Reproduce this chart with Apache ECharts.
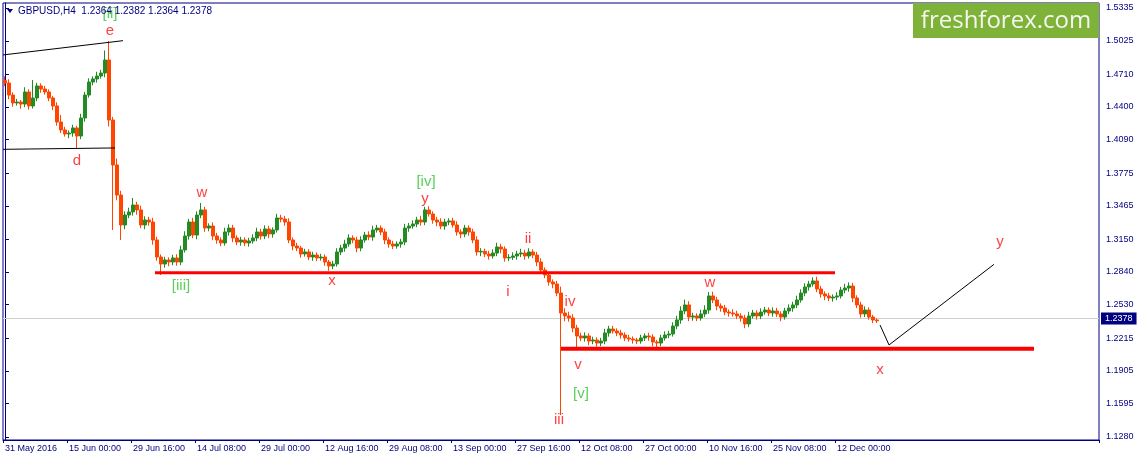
<!DOCTYPE html>
<html><head><meta charset="utf-8">
<script src="https://cdn.jsdelivr.net/npm/echarts@6/dist/echarts.min.js"></script>
<style>html,body{margin:0;padding:0;background:#fff;}#c{width:1140px;height:460px;}</style>
</head><body><div id="c"></div>
<script>
// ---------- data ----------
const chartTitle = 'GBPUSD,H4  1.2364 1.2382 1.2364 1.2378';
const brandText = 'freshforex.com';
const xLabels = ['31 May 2016','15 Jun 00:00','29 Jun 16:00','14 Jul 08:00','29 Jul 00:00','12 Aug 16:00',
  '29 Aug 08:00','13 Sep 00:00','27 Sep 16:00','12 Oct 08:00','27 Oct 00:00','10 Nov 16:00','25 Nov 08:00','12 Dec 00:00'];
const yLabels = ['1.1280','1.1595','1.1905','1.2215','1.2530','1.2840','1.3150','1.3465','1.3775','1.4090',
  '1.4400','1.4710','1.5025','1.5335'];
const firstOpen = 1.4650;
const closes = [
  1.4626,1.4512,1.4437,1.4446,1.4427,1.4541,1.4409,1.4484,1.4598,1.4569,
  1.4541,1.4484,1.4409,1.4257,1.4182,1.4144,1.4153,1.4201,1.4125,1.4295,
  1.4512,1.4635,1.4664,1.4692,1.4720,1.4843,1.4276,1.3851,1.3567,1.3284,
  1.3378,1.3407,1.3473,1.3426,1.3284,1.3331,1.3312,1.3142,1.2981,1.2915,
  1.2953,1.2934,1.2972,1.2934,1.3048,1.3180,1.3312,1.3189,1.3378,1.3426,
  1.3255,1.3274,1.3180,1.3142,1.3114,1.3218,1.3255,1.3161,1.3123,1.3142,
  1.3114,1.3133,1.3161,1.3218,1.3180,1.3246,1.3199,1.3237,1.3350,1.3340,
  1.3312,1.3142,1.3085,1.3066,1.3010,1.3029,1.2981,1.3000,1.2972,1.2981,
  1.2934,1.2896,1.2915,1.3029,1.3066,1.3104,1.3161,1.3142,1.3066,1.3142,
  1.3189,1.3170,1.3237,1.3255,1.3218,1.3142,1.3104,1.3085,1.3104,1.3123,
  1.3255,1.3274,1.3293,1.3331,1.3312,1.3426,1.3388,1.3331,1.3312,1.3274,
  1.3312,1.3322,1.3284,1.3218,1.3199,1.3255,1.3218,1.3142,1.3029,1.3035,
  1.3010,1.2991,1.3019,1.3076,1.3057,1.2972,1.2978,1.2991,1.3010,1.3019,
  1.2991,1.3029,1.3000,1.2934,1.2858,1.2811,1.2745,1.2726,1.2641,1.2452,
  1.2424,1.2405,1.2310,1.2235,1.2216,1.2235,1.2187,1.2197,1.2168,1.2187,
  1.2263,1.2301,1.2282,1.2263,1.2244,1.2216,1.2206,1.2197,1.2187,1.2216,
  1.2235,1.2225,1.2178,1.2168,1.2216,1.2244,1.2254,1.2329,1.2386,1.2471,
  1.2528,1.2414,1.2424,1.2405,1.2443,1.2480,1.2613,1.2575,1.2518,1.2499,
  1.2461,1.2452,1.2443,1.2424,1.2405,1.2348,1.2424,1.2452,1.2424,1.2461,
  1.2480,1.2452,1.2471,1.2443,1.2414,1.2471,1.2499,1.2528,1.2575,1.2641,
  1.2698,1.2726,1.2755,1.2679,1.2632,1.2613,1.2594,1.2603,1.2613,1.2669,
  1.2688,1.2707,1.2594,1.2528,1.2443,1.2480,1.2414,1.2386,1.2378
];
// shadow lengths above / below each body, in pips
const upperPips = [
  40,35,25,30,20,45,25,60,30,25, 30,25,20,35,60,30,25,30,20,40,
  30,35,25,40,30,90,50,30,60,40, 35,40,55,30,40,35,30,40,30,25,
  30,25,30,35,40,45,30,40,35,50, 30,25,35,30,25,40,35,30,25,30,
  25,30,35,40,30,35,30,25,40,30, 30,35,25,30,20,30,25,30,25,30,
  25,20,30,35,30,40,35,25,30,35, 30,35,40,30,25,30,25,30,25,30,
  40,30,35,30,40,30,35,25,30,35, 30,25,30,35,25,30,25,30,35,30,
  25,30,35,40,30,25,30,35,30,40, 30,35,25,30,35,25,30,25,30,60,
  45,40,35,30,30,35,25,30,25,30, 40,30,30,25,30,25,30,25,20,30,
  25,30,25,20,30,35,30,35,40,45, 50,35,30,25,40,45,35,40,30,25,
  30,25,35,30,25,30,40,30,25,35, 30,25,35,30,25,30,35,30,40,35,
  35,30,35,40,30,25,30,25,35,30, 40,35,30,25,30,35,25,20,15
];
const lowerPips = [
  30,40,35,25,45,30,35,25,30,35, 25,30,40,35,30,25,40,35,50,30,
  35,25,30,35,25,40,60,120,50,60, 40,30,35,45,30,40,35,45,35,50,
  35,40,30,35,30,25,35,30,40,30, 35,30,40,35,30,25,35,40,30,35,
  30,35,25,30,35,30,40,35,25,30, 35,30,40,30,35,25,30,35,30,25,
  35,45,30,25,30,35,25,30,40,30, 25,30,35,25,30,40,35,30,25,35,
  30,35,25,30,35,30,25,35,40,30, 35,30,25,35,40,30,35,30,35,40,
  30,35,25,30,40,35,30,25,35,30, 35,25,30,40,35,30,35,40,30,60,
  50,35,40,45,30,35,40,30,35,30, 30,35,25,30,35,30,25,35,30,25,
  30,35,40,45,30,25,30,25,30,35, 30,40,35,30,25,30,35,30,40,35,
  30,35,25,30,35,40,30,25,35,30, 25,30,35,30,40,25,30,35,30,25,
  30,35,25,30,35,40,30,35,30,25, 30,35,40,30,35,30,25,30,20
];
// [bar index, high, low] for bars with long shadows
const wicks = [
  [5,1.4560,null],[7,1.4654,null],[14,1.4323,null],[18,null,1.4012],[26,1.5023,null],
  [27,null,1.3237],[29,null,1.3142],[32,1.3539,null],[39,null,1.2811],[49,1.3492,null],
  [81,null,1.2877],[105,1.3454,null],[139,null,1.1488],[143,null,1.2102],[176,1.2651,null],
  [185,null,1.2320],[202,1.2783,null]
];
const lastPrice = 1.2378;
// annotation lines: [bar index, price]
const trendUpper = [[-0.5,1.4891],[29.5,1.5026]];
const trendLower = [[-0.5,1.3999],[27.5,1.4012]];
const resistance = [[37.5,1.2833],[207.5,1.2833]];
const support = [[139,1.2115],[257.25,1.2115]];
const projection = [[218.75,1.2339],[221,1.2150],[247.25,1.2912]];
// wave labels: [text, bar index, price]
const redLabels = [['e',26.25,1.5117],['d',18,1.3889],['w',49.25,1.3586],['x',81.75,1.2755],
  ['y',105,1.3529],['ii',130.75,1.3151],['i',125.75,1.2650],['iv',141.25,1.2556],
  ['v',143.25,1.1961],['iii',138.5,1.1441],['w',176.25,1.2736],['x',218.75,1.1913],['y',248.75,1.3123]];
const greenLabels = [['[ii]',26.25,1.5278],['[iii]',44,1.2707],['[iv]',105.25,1.3690],['[v]',144,1.1686]];
const slotCount = 274;
const labelEvery = 16;

// ---------- build ----------
const yTicks = yLabels.map(Number);
const candles = closes.map((c, i) => {
  const o = i === 0 ? firstOpen : closes[i - 1];
  let h = Math.max(o, c) + upperPips[i] / 10000;
  let l = Math.min(o, c) - lowerPips[i] / 10000;
  const w = wicks.find(x => x[0] === i);
  if (w) { if (w[1] != null) h = Math.max(h, w[1]); if (w[2] != null) l = Math.min(l, w[2]); }
  return [o, c, l, h];
});
const cats = Array.from({length: slotCount}, (_, i) => String(i));
const lastLabelSlot = (xLabels.length - 1) * labelEvery;
const showSlot = idx => idx % labelEvery === 0 && idx <= lastLabelSlot;
const NAVY = '#000080';
const axisFont = {color: NAVY, fontSize: 9, fontFamily: 'Liberation Sans, Arial, sans-serif'};

function lineSeries(data, color, width) {
  return {type: 'line', xAxisIndex: 1, yAxisIndex: 0, data: data, symbol: 'none', silent: true,
    clip: false, z: 5, lineStyle: {color: color, width: width}};
}
function labelSeries(list, color) {
  return {type: 'scatter', xAxisIndex: 1, yAxisIndex: 0, symbolSize: 1, silent: true, z: 6,
    itemStyle: {color: 'rgba(0,0,0,0)'},
    data: list.map(d => ({name: d[0], value: [d[1], d[2]]})),
    label: {show: true, position: 'inside', formatter: '{b}', color: color, fontSize: 15,
      fontFamily: 'Liberation Sans, Arial, sans-serif'}};
}

const chart = echarts.init(document.getElementById('c'), null, {renderer: 'canvas'});
chart.setOption({
  animation: false,
  backgroundColor: '#fff',
  grid: {left: 3, right: 41, top: 3, bottom: 20, show: true, borderColor: NAVY, borderWidth: 1, backgroundColor: '#fff'},
  xAxis: [{
    type: 'category', data: cats, boundaryGap: true,
    axisLine: {show: true, lineStyle: {color: NAVY}},
    axisTick: {show: true, interval: (idx) => showSlot(idx), length: 3, lineStyle: {color: NAVY}},
    axisLabel: Object.assign({interval: (idx) => showSlot(idx), align: 'left', margin: 4,
      formatter: (v, idx) => xLabels[idx / labelEvery] || ''}, axisFont),
    splitLine: {show: false}
  }, {
    type: 'value', min: -0.5, max: slotCount - 0.5, show: false
  }],
  yAxis: [{
    type: 'value', position: 'right', min: 1.12516, max: 1.5382, scale: true,
    axisLine: {show: true, lineStyle: {color: NAVY}},
    axisTick: {show: true, length: 4, customValues: yTicks, lineStyle: {color: NAVY}},
    axisLabel: Object.assign({customValues: yTicks, margin: 7,
      formatter: v => { const k = yTicks.findIndex(t => Math.abs(t - v) < 1e-6); return k >= 0 ? yLabels[k] : ''; }}, axisFont),
    splitLine: {show: false}
  }],
  graphic: [
    {type: 'polygon', shape: {points: [[7, 9], [13, 9], [10, 13]]}, style: {fill: NAVY}, z: 10},
    {type: 'text', x: 18, y: 11, style: {text: chartTitle, fill: NAVY, fontSize: 10,
      fontFamily: 'Liberation Sans, Arial, sans-serif', verticalAlign: 'middle'}, z: 10},
    {type: 'rect', shape: {x: 913, y: 3, width: 186, height: 35}, style: {fill: '#7fb239'}, z: 10},
    {type: 'text', x: 1006, y: 21, style: {text: brandText, fill: '#f4f7ee', fontSize: 24,
      fontFamily: 'Open Sans, sans-serif', align: 'center', verticalAlign: 'middle'}, z: 11}
  ],
  series: [
    {
      type: 'candlestick', xAxisIndex: 0, yAxisIndex: 0, data: candles, barWidth: 3,
      itemStyle: {color: '#228b22', color0: '#ff4500', borderColor: '#228b22', borderColor0: '#ff4500', borderWidth: 1},
      markLine: {
        symbol: 'none', silent: true, z: 1,
        lineStyle: {color: '#cfcfcf', type: 'solid', width: 1},
        label: {position: 'end', distance: 2, formatter: lastPrice.toFixed(4), backgroundColor: NAVY,
          color: '#fff', padding: [2, 4, 1, 4], fontSize: 9, fontFamily: 'Liberation Sans, Arial, sans-serif'},
        data: [{yAxis: lastPrice}]
      }
    },
    lineSeries(trendUpper, '#000', 1),
    lineSeries(trendLower, '#000', 1),
    lineSeries(resistance, '#ff0000', 3),
    lineSeries(support, '#ff0000', 4),
    lineSeries(projection, '#000', 1),
    labelSeries(redLabels, '#ff1010'),
    labelSeries(greenLabels, '#2fc42f')
  ]
});
</script></body></html>
